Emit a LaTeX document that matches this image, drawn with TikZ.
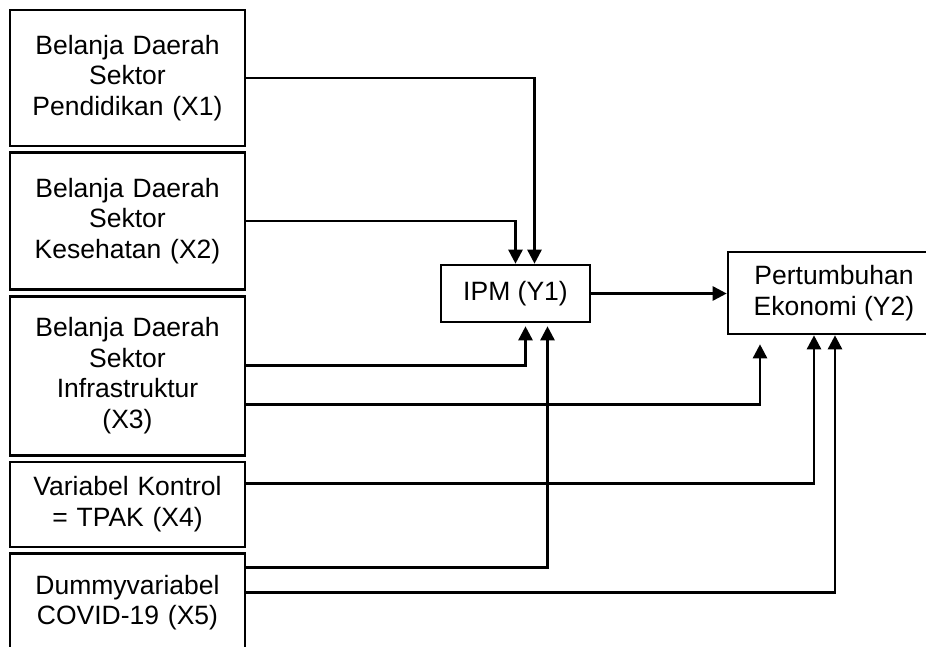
\documentclass[tikz,border=0pt]{standalone}
\usepackage{fontspec}
\setmainfont{Liberation Sans}
\usetikzlibrary{positioning,arrows.meta}

\begin{document}
\begin{tikzpicture}[x=1pt, y=-1pt, node distance=4pt,
  var/.style={rectangle, draw, line width=2.6pt, text width=229pt, align=center, minimum width=235pt, inner sep=0pt, font=\fontsize{26.5}{30.5}\selectfont},
  model/.style={rectangle, draw, line width=2.6pt, align=center, inner sep=0pt, font=\fontsize{26.5}{30.5}\selectfont},
  link/.style={line width=2.6pt, -{Triangle[length=14pt,width=14pt]}}]
\useasboundingbox (0,0) rectangle (926,647);

\node [var, minimum height=136pt] (x1) at (127.5,78) {Belanja Daerah\\ Sektor\\ Pendidikan (X1)};
\node [var, minimum height=137pt, below=of x1] (x2) {Belanja Daerah\\ Sektor\\ Kesehatan (X2)};
\node [var, minimum height=159pt, below=of x2] (x3) {Belanja Daerah\\ Sektor\\ Infrastruktur\\ (X3)};
\node [var, minimum height=85pt, below=of x3] (x4) {Variabel Kontrol\\ = TPAK (X4)};
\node [var, minimum height=98pt, below=of x4] (x5) {Dummyvariabel\\ COVID-19 (X5)};

\node [model, minimum width=149pt, minimum height=57pt] (ipm) at (515.5,293.5) {IPM (Y1)};
\node [model, minimum width=212pt, minimum height=82pt] (growth) at (834,293) {Pertumbuhan\\ Ekonomi (Y2)};

\draw [link] (ipm.east) -- (ipm.east -| growth.west);
\draw [link] (x1.east) -| ([xshift=19pt]ipm.north);
\draw [link] (x2.east) -| (ipm.north);
\draw [link] ([yshift=10pt]x3.east) -| ([xshift=10pt,yshift=-3pt]ipm.south);
\draw [link] ([yshift=-29pt]x3.east) -| ([xshift=-74pt,yshift=-9pt]growth.south);
\draw [link] ([yshift=21pt]x4.east) -| ([xshift=-20pt]growth.south);
\draw [link] ([yshift=35pt]x5.east) -| ([xshift=32pt,yshift=-3pt]ipm.south);
\draw [link] ([yshift=10pt]x5.east) -| ([xshift=1pt]growth.south);
\end{tikzpicture}
\end{document}
